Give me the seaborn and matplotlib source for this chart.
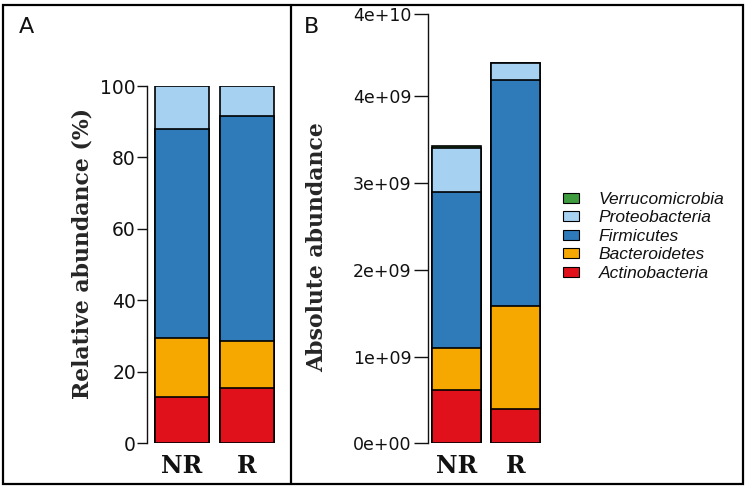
import matplotlib
matplotlib.use("Agg")
import matplotlib.pyplot as plt
import seaborn as sns
import pandas as pd
from matplotlib.patches import Patch, Rectangle
from matplotlib.lines import Line2D

# groups and phyla (bottom -> top stacking order)
groups = ["NR", "R"]
phyla = ["Actinobacteria", "Bacteroidetes", "Firmicutes", "Proteobacteria", "Verrucomicrobia"]
colors = ["#e0111a", "#f6a800", "#2f7ab8", "#a7d1f0", "#3e9b3e"]

# panel A: relative abundance (%)
rel_nr = [12.9, 16.5, 58.6, 12.0, 0.0]
rel_r = [15.6, 12.9, 63.2, 8.3, 0.0]

# panel B: absolute abundance
abs_nr = [0.615e9, 0.485e9, 1.80e9, 0.50e9, 0.025e9]
abs_r = [0.39e9, 1.19e9, 2.61e9, 0.19e9, 0.0]

b_ticks = [0, 1e9, 2e9, 3e9, 4e9, 4.95e9]
b_ticklabels = ["0e+00", "1e+09", "2e+09", "3e+09", "4e+09", "4e+10"]

sns.set_style("white")
plt.rcParams["font.family"] = ["DejaVu Sans"]
plt.rcParams["text.color"] = "#111111"
plt.rcParams["ytick.color"] = "#111111"
plt.rcParams["xtick.color"] = "#111111"

W, H = 749, 490
fig = plt.figure(figsize=(7.49, 4.90), dpi=100)


def px_axes(left, bottom_px, right, top_px):
    # pixel box (from top-left) -> figure fraction
    return [left / W, 1 - bottom_px / H, (right - left) / W, (bottom_px - top_px) / H]


def stacked(ax, vals_nr, vals_r):
    df = pd.DataFrame({"group": groups * len(phyla),
                       "phylum": [p for p in phyla for _ in groups],
                       "value": [v for pair in zip(vals_nr, vals_r) for v in pair]})
    df["top"] = df.groupby("group")["value"].cumsum()
    # draw from the top layer down so lower layers overlay
    for p, c in reversed(list(zip(phyla, colors))):
        sub = df[df["phylum"] == p]
        if sub["value"].sum() == 0:
            continue
        sns.barplot(data=sub, x="group", y="top", color=c, edgecolor="black",
                    linewidth=1.2, width=0.83, errorbar=None, saturation=1,
                    ax=ax, order=groups)


def style(ax):
    for s in ["top", "right", "bottom"]:
        ax.spines[s].set_visible(False)
    ax.spines["left"].set_linewidth(1.0)
    ax.spines["left"].set_color("#111111")
    ax.set_xlabel("")
    ax.tick_params(axis="x", length=0, pad=8)
    for lab in ax.get_xticklabels():
        lab.set_fontfamily("DejaVu Serif")
        lab.set_fontweight("bold")
        lab.set_fontsize(17)


# ---- panel A
axA = fig.add_axes(px_axes(147, 443.3, 147 + 1.99 * 65, 86))
stacked(axA, rel_nr, rel_r)
axA.set_xlim(-0.54, 1.45)
axA.set_ylim(0, 100)
axA.set_yticks([0, 20, 40, 60, 80, 100])
axA.tick_params(axis="y", length=7, width=1, pad=1, labelsize=13.5, left=True)
style(axA)
axA.set_ylabel("Relative abundance (%)", fontfamily="DejaVu Serif",
               fontweight="bold", fontsize=15.8)
axA.yaxis.set_label_coords(-0.41, 0.53)

# ---- panel B
axB = fig.add_axes(px_axes(428, 443.3, 428 + 1.99 * 59, 14))
stacked(axB, abs_nr, abs_r)
axB.set_xlim(-0.49, 1.5)
axB.set_ylim(0, b_ticks[-1])
axB.set_yticks(b_ticks)
axB.set_yticklabels(b_ticklabels)
axB.tick_params(axis="y", length=10, width=1, pad=2, labelsize=12.5, left=True)
style(axB)
axB.set_ylabel("Absolute abundance", fontfamily="DejaVu Serif",
               fontweight="bold", fontsize=15.8)
axB.yaxis.set_label_coords(-0.85, 0.457)

# legend
handles = [Patch(facecolor=c, edgecolor="black", linewidth=0.8)
           for c in reversed(colors)]
leg = fig.legend(handles, list(reversed(phyla)), loc="upper left",
                 bbox_to_anchor=(563 / W, 1 - 192 / H), frameon=False,
                 borderpad=0, borderaxespad=0,
                 prop={"family": "Liberation Sans", "style": "italic", "size": 12.5},
                 handlelength=0.95, handleheight=0.5, labelspacing=0.2,
                 handletextpad=1.1)

# panel frames and letters
fig.add_artist(Rectangle((3 / W, 1 - 484 / H), (743 - 3) / W, (484 - 5) / H,
                         transform=fig.transFigure, fill=False,
                         edgecolor="black", linewidth=1.6))
fig.add_artist(Line2D([291 / W, 291 / W], [1 - 484 / H, 1 - 5 / H],
                      transform=fig.transFigure, color="black", linewidth=1.6))
fig.text(19 / W, 1 - 33 / H, "A", fontsize=16)
fig.text(304 / W, 1 - 33 / H, "B", fontsize=16)

fig.savefig("out.png", dpi=100)
